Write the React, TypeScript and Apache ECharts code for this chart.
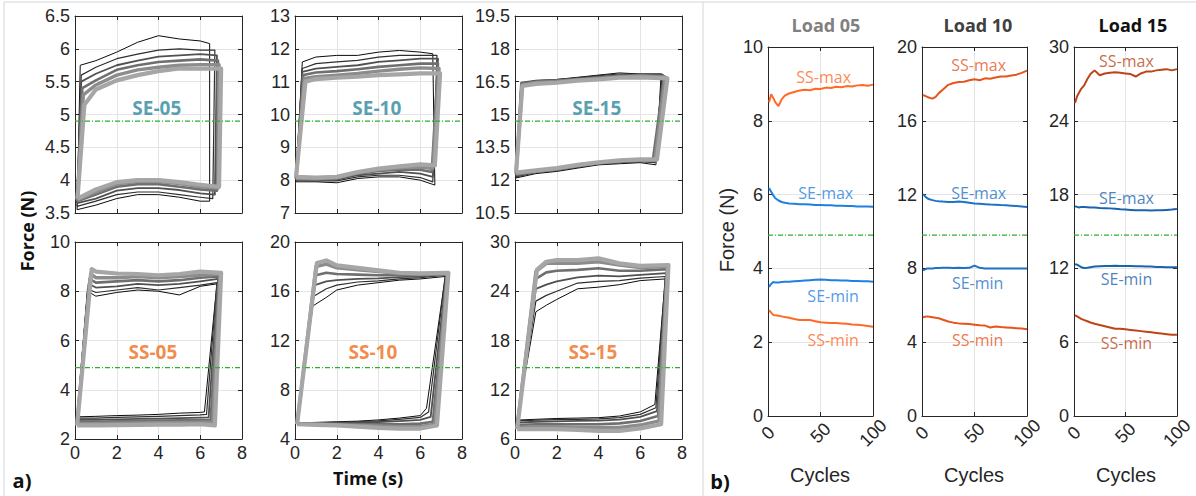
import React, { useEffect, useRef } from "react";
import * as echarts from "echarts";

// ---------------- Panel a) hysteresis loops ----------------
// Each loop: lower path (lower-left corner, plateau points, lower-right corner),
// then upper path (upper-right corner, plateau points, upper-left corner).
// corners = [lowerLeftT, lowerRightT, upperRightT, upperLeftT]
const LOW_T = [1, 2, 3, 4, 5, 6];
const UP_T_A = [6, 5, 4, 3, 2, 1];
const UP_T_B = [6, 5, 4, 3, 2, 1.5];

const CYCLE_GRAYS = ["#0b0b0b", "#2f2f2f", "#505050", "#6f6f6f", "#8c8c8c", "#a6a6a6"];
const CYCLE_WIDTHS = [1, 1.2, 1.8, 2.6, 3.4, 4.2];

const SE05_CORNERS = [[0.1, 6.45, 6.45, 0.25], [0.1, 6.6, 6.7, 0.3], [0.1, 6.7, 6.8, 0.3], [0.1, 6.8, 6.85, 0.35], [0.1, 6.85, 6.9, 0.4], [0.12, 6.9, 7.0, 0.45]];
const SE05_LOWER = [
  [3.55, 3.62, 3.72, 3.78, 3.78, 3.74, 3.68, 3.68],
  [3.6, 3.68, 3.78, 3.82, 3.82, 3.78, 3.74, 3.72],
  [3.65, 3.72, 3.84, 3.88, 3.88, 3.85, 3.8, 3.78],
  [3.68, 3.78, 3.9, 3.94, 3.94, 3.9, 3.86, 3.84],
  [3.7, 3.82, 3.94, 3.98, 3.98, 3.95, 3.9, 3.88],
  [3.72, 3.86, 3.97, 4.0, 4.0, 3.97, 3.93, 3.9],
];
const SE05_UPPER = [
  [6.08, 6.12, 6.15, 6.2, 6.1, 5.95, 5.82, 5.75],
  [5.98, 5.98, 6.0, 5.98, 5.92, 5.85, 5.72, 5.6],
  [5.9, 5.92, 5.9, 5.88, 5.82, 5.75, 5.62, 5.5],
  [5.82, 5.84, 5.82, 5.8, 5.75, 5.68, 5.52, 5.4],
  [5.76, 5.76, 5.75, 5.72, 5.68, 5.6, 5.45, 5.3],
  [5.7, 5.7, 5.7, 5.66, 5.6, 5.52, 5.38, 5.15],
];

const SE10_CORNERS = [[0.05, 6.7, 6.6, 0.35], [0.05, 6.6, 6.8, 0.35], [0.05, 6.6, 6.85, 0.35], [0.05, 6.55, 6.85, 0.4], [0.05, 6.6, 6.9, 0.45], [0.05, 6.7, 6.95, 0.5]];
const SE10_LOWER = [
  [7.95, 7.95, 7.92, 8.05, 8.1, 8.1, 8.0, 7.85],
  [8.0, 7.98, 7.98, 8.1, 8.15, 8.15, 8.08, 7.95],
  [8.0, 8.0, 8.02, 8.15, 8.2, 8.25, 8.2, 8.1],
  [8.05, 8.02, 8.05, 8.2, 8.28, 8.32, 8.32, 8.25],
  [8.05, 8.05, 8.08, 8.22, 8.32, 8.38, 8.4, 8.35],
  [8.1, 8.08, 8.1, 8.25, 8.35, 8.42, 8.48, 8.45],
];
const SE10_UPPER = [
  [11.85, 11.9, 11.95, 11.9, 11.8, 11.8, 11.75, 11.6],
  [11.8, 11.8, 11.8, 11.75, 11.65, 11.6, 11.55, 11.4],
  [11.7, 11.7, 11.65, 11.6, 11.5, 11.45, 11.4, 11.3],
  [11.55, 11.55, 11.5, 11.45, 11.38, 11.32, 11.28, 11.2],
  [11.4, 11.42, 11.38, 11.32, 11.25, 11.2, 11.15, 11.1],
  [11.25, 11.25, 11.22, 11.2, 11.15, 11.12, 11.08, 11.0],
];

const SE15_CORNERS = [[0.05, 6.75, 7.0, 0.3], [0.05, 6.7, 7.05, 0.3], [0.05, 6.65, 7.1, 0.3], [0.05, 6.6, 7.15, 0.3], [0.05, 6.7, 7.2, 0.35], [0.05, 6.8, 7.3, 0.35]];
const SE15_LOWER = [
  [12.1, 12.3, 12.4, 12.55, 12.7, 12.75, 12.8, 12.7],
  [12.15, 12.35, 12.45, 12.6, 12.72, 12.8, 12.85, 12.8],
  [12.2, 12.38, 12.5, 12.62, 12.75, 12.82, 12.88, 12.85],
  [12.25, 12.4, 12.5, 12.65, 12.78, 12.85, 12.9, 12.9],
  [12.3, 12.42, 12.52, 12.68, 12.8, 12.88, 12.92, 12.92],
  [12.35, 12.45, 12.55, 12.7, 12.82, 12.9, 12.95, 12.95],
];
const SE15_UPPER = [
  [16.85, 16.85, 16.9, 16.8, 16.7, 16.6, 16.45, 16.3],
  [16.85, 16.85, 16.85, 16.78, 16.68, 16.6, 16.55, 16.4],
  [16.8, 16.82, 16.8, 16.72, 16.65, 16.58, 16.55, 16.45],
  [16.75, 16.8, 16.75, 16.68, 16.6, 16.55, 16.5, 16.4],
  [16.7, 16.75, 16.72, 16.65, 16.58, 16.5, 16.45, 16.35],
  [16.65, 16.7, 16.68, 16.6, 16.55, 16.45, 16.4, 16.3],
];

const SS05_CORNERS = [[0.1, 6.2, 6.8, 0.6], [0.1, 6.3, 6.8, 0.6], [0.1, 6.4, 6.85, 0.65], [0.1, 6.5, 6.9, 0.7], [0.1, 6.6, 6.95, 0.75], [0.1, 6.7, 7.0, 0.8]];
const SS05_LOWER = [
  [2.9, 2.92, 2.95, 2.97, 3.0, 3.05, 3.08, 3.1],
  [2.85, 2.85, 2.88, 2.9, 2.92, 2.95, 2.98, 3.0],
  [2.78, 2.78, 2.8, 2.82, 2.83, 2.85, 2.87, 2.88],
  [2.7, 2.7, 2.72, 2.74, 2.75, 2.76, 2.77, 2.78],
  [2.62, 2.62, 2.64, 2.65, 2.66, 2.67, 2.68, 2.68],
  [2.55, 2.55, 2.56, 2.57, 2.58, 2.58, 2.6, 2.55],
];
const SS05_UPPER = [
  [8.3, 8.2, 7.85, 8.0, 8.05, 7.95, 7.8, 8.0],
  [8.35, 8.25, 8.15, 8.05, 8.15, 8.05, 7.95, 8.1],
  [8.5, 8.4, 8.3, 8.25, 8.3, 8.2, 8.15, 8.3],
  [8.6, 8.55, 8.45, 8.4, 8.45, 8.4, 8.35, 8.5],
  [8.7, 8.65, 8.6, 8.55, 8.6, 8.55, 8.55, 8.7],
  [8.75, 8.8, 8.7, 8.65, 8.7, 8.72, 8.8, 8.9],
];

const SS10_CORNERS = [[0.1, 6.3, 7.2, 0.85], [0.1, 6.4, 7.2, 0.9], [0.1, 6.5, 7.25, 0.95], [0.1, 6.6, 7.3, 1.0], [0.1, 6.7, 7.3, 1.0], [0.1, 6.8, 7.35, 1.05]];
const SS10_LOWER = [
  [5.3, 5.35, 5.4, 5.45, 5.55, 5.7, 5.9, 6.5],
  [5.3, 5.32, 5.35, 5.4, 5.48, 5.6, 5.75, 6.2],
  [5.3, 5.3, 5.3, 5.32, 5.38, 5.45, 5.55, 5.8],
  [5.25, 5.25, 5.22, 5.2, 5.2, 5.2, 5.25, 5.4],
  [5.2, 5.2, 5.15, 5.1, 5.05, 5.0, 5.0, 5.2],
  [5.2, 5.15, 5.1, 5.0, 4.9, 4.85, 4.85, 5.1],
];
const SS10_UPPER = [
  [17.2, 17.0, 16.9, 16.7, 16.5, 16.1, 15.5, 14.8],
  [17.3, 17.1, 17.0, 16.85, 16.75, 16.5, 16.2, 15.6],
  [17.35, 17.2, 17.15, 17.05, 17.0, 16.9, 16.8, 16.5],
  [17.4, 17.3, 17.3, 17.3, 17.35, 17.4, 17.5, 17.3],
  [17.45, 17.4, 17.45, 17.6, 17.75, 17.9, 18.2, 18.0],
  [17.5, 17.45, 17.5, 17.7, 17.9, 18.1, 18.5, 18.3],
];

const SS15_CORNERS = [[0.1, 6.7, 7.2, 1.0], [0.1, 6.75, 7.2, 1.0], [0.1, 6.8, 7.25, 1.0], [0.1, 6.85, 7.3, 1.0], [0.1, 6.9, 7.3, 1.0], [0.1, 7.0, 7.35, 1.05]];
const SS15_LOWER = [
  [8.3, 8.4, 8.5, 8.55, 8.6, 8.8, 9.3, 10.2],
  [8.2, 8.3, 8.35, 8.4, 8.45, 8.6, 9.0, 9.8],
  [8.0, 8.1, 8.15, 8.2, 8.25, 8.35, 8.7, 9.4],
  [7.7, 7.8, 7.8, 7.8, 7.8, 7.9, 8.2, 8.8],
  [7.4, 7.5, 7.5, 7.45, 7.4, 7.4, 7.7, 8.2],
  [7.2, 7.2, 7.2, 7.1, 7.0, 7.0, 7.3, 7.8],
];
const SS15_UPPER = [
  [25.5, 25.3, 24.8, 24.5, 24.3, 23.0, 22.3, 21.5],
  [25.8, 25.6, 25.3, 25.2, 25.0, 24.0, 23.5, 22.8],
  [26.2, 26.0, 25.8, 25.9, 25.7, 25.2, 24.8, 24.3],
  [26.7, 26.5, 26.5, 26.8, 26.6, 26.5, 26.3, 25.5],
  [27.0, 26.9, 27.2, 27.6, 27.4, 27.4, 27.4, 26.4],
  [27.2, 27.1, 27.4, 28.0, 27.8, 27.8, 27.6, 26.6],
];

const A_NAMES = ["SE-05", "SE-10", "SE-15", "SS-05", "SS-10", "SS-15"];
const A_Y_MIN = [3.5, 7, 10.5, 2, 4, 6];
const A_Y_MAX = [6.5, 13, 19.5, 10, 20, 30];
const A_Y_STEP = [0.5, 1, 1.5, 2, 4, 6];
const A_X_TICKS = [0, 8, 2];
const A_GREEN = [4.9, 9.8, 14.7, 4.9, 9.8, 14.7];
const A_LABEL_POS = [[3.92, 5.1], [3.92, 10.2], [3.92, 15.3], [3.73, 5.55], [3.73, 11.1], [3.73, 16.6]];

// ---------------- Panel b) max/min force vs cycles ----------------
const CYCLES = [1, 3, 5, 7, 10, 13, 16, 20, 25, 30, 35, 40, 45, 50, 55, 60, 65, 70, 75, 80, 85, 90, 95, 100];

const L05_SS_MAX = [8.5, 8.72, 8.62, 8.5, 8.4, 8.58, 8.68, 8.74, 8.78, 8.82, 8.84, 8.83, 8.87, 8.86, 8.9, 8.89, 8.92, 8.91, 8.94, 8.93, 8.96, 8.97, 8.95, 8.98];
const L05_SE_MAX = [6.18, 6.08, 5.98, 5.9, 5.84, 5.8, 5.78, 5.76, 5.75, 5.74, 5.74, 5.73, 5.72, 5.72, 5.71, 5.71, 5.7, 5.7, 5.69, 5.69, 5.68, 5.68, 5.68, 5.67];
const L05_SE_MIN = [3.5, 3.58, 3.63, 3.62, 3.62, 3.63, 3.64, 3.64, 3.65, 3.66, 3.67, 3.68, 3.69, 3.7, 3.69, 3.68, 3.68, 3.67, 3.67, 3.66, 3.66, 3.65, 3.65, 3.64];
const L05_SS_MIN = [2.87, 2.8, 2.74, 2.73, 2.72, 2.7, 2.68, 2.66, 2.63, 2.6, 2.6, 2.6, 2.57, 2.54, 2.53, 2.52, 2.52, 2.51, 2.5, 2.48, 2.47, 2.46, 2.44, 2.42];

const L10_SS_MAX = [17.4, 17.35, 17.3, 17.25, 17.2, 17.3, 17.5, 17.7, 17.95, 18.05, 18.1, 18.12, 18.2, 18.25, 18.2, 18.3, 18.28, 18.35, 18.4, 18.4, 18.45, 18.5, 18.6, 18.72];
const L10_SE_MAX = [12.03, 11.9, 11.8, 11.75, 11.7, 11.66, 11.64, 11.62, 11.6, 11.6, 11.62, 11.6, 11.56, 11.52, 11.5, 11.48, 11.46, 11.45, 11.43, 11.42, 11.4, 11.38, 11.36, 11.33];
const L10_SE_MIN = [7.9, 7.95, 8.0, 8.0, 8.0, 8.02, 8.02, 8.03, 8.03, 8.02, 8.03, 8.02, 8.03, 8.15, 8.03, 8.0, 8.0, 8.0, 8.0, 8.0, 8.0, 8.0, 8.0, 8.0];
const L10_SS_MIN = [5.35, 5.38, 5.4, 5.38, 5.35, 5.32, 5.3, 5.22, 5.12, 5.06, 5.02, 5.0, 4.98, 4.95, 4.92, 4.9, 4.8, 4.85, 4.82, 4.8, 4.78, 4.76, 4.74, 4.7];

const L15_SS_MAX = [25.45, 26.0, 26.3, 26.6, 26.9, 27.4, 27.8, 28.1, 27.7, 27.85, 27.9, 27.95, 27.9, 27.85, 27.8, 27.6, 27.85, 28.0, 28.0, 28.1, 28.15, 28.2, 28.1, 28.2];
const L15_SE_MAX = [17.05, 17.0, 16.95, 17.0, 17.0, 16.98, 16.96, 16.95, 16.92, 16.9, 16.88, 16.85, 16.8, 16.78, 16.75, 16.72, 16.72, 16.72, 16.7, 16.72, 16.72, 16.75, 16.78, 16.82];
const L15_SE_MIN = [12.35, 12.3, 12.2, 12.1, 12.03, 12.05, 12.1, 12.15, 12.18, 12.2, 12.2, 12.22, 12.2, 12.2, 12.2, 12.18, 12.18, 12.15, 12.15, 12.12, 12.12, 12.1, 12.1, 12.1];
const L15_SS_MIN = [8.2, 8.1, 8.0, 7.9, 7.8, 7.7, 7.6, 7.5, 7.4, 7.3, 7.2, 7.1, 7.1, 7.05, 7.0, 6.95, 6.9, 6.85, 6.8, 6.75, 6.7, 6.65, 6.6, 6.6];

const B_TITLES = ["Load 05", "Load 10", "Load 15"];
const B_SERIES_NAMES = ["SS-max", "SE-max", "SE-min", "SS-min"];
const B_Y_MAX = [10, 20, 30];
const B_Y_STEP = [2, 4, 6];
const B_X_TICKS = [0, 100, 50];
const B_GREEN = [4.9, 9.8, 14.7];
const B_LABEL_POS = [
  [[53, 9.2], [55, 6.04], [62, 3.25], [62, 2.06]],
  [[54, 19.0], [54, 12.1], [53, 7.2], [53, 4.1]],
  [[51, 28.9], [51, 17.7], [51, 11.1], [51, 5.9]],
];

// ---------------- styling / layout ----------------
const INK = "#262626";
const GRIDLINE = "#e4e4e4";
const GREEN = "#2bb02b";
const SE_LABEL = "#2a879b";
const SS_LABEL = "#ee6e1c";
const B_SE_COLORS = ["#1f80e0", "#1b72c8", "#1a64ae"];
const B_SS_COLORS = ["#ff6a26", "#e6551c", "#bd4416"];
const B_TITLE_COLORS = ["#808080", "#404040", "#111111"];
const SANS = "'Liberation Sans', Arial, sans-serif";
const LABEL_FONT = "'Open Sans', 'Noto Sans', sans-serif";

const A_GRIDS = [
  { left: 75, top: 16 }, { left: 295, top: 16 }, { left: 515, top: 16 },
  { left: 75, top: 242 }, { left: 295, top: 242 }, { left: 515, top: 242 },
];
const A_GRID_W = 167;
const A_GRID_H = 197;
const B_GRIDS = [{ left: 768 }, { left: 922 }, { left: 1074 }];
const B_GRID_TOP = 47;
const B_GRID_W = 105;
const B_GRID_H = 369;
const B_TITLE_X = [826, 978, 1133];
const B_CYCLES_X = [820, 974, 1126];

function buildLoop(corner: number[], low: number[], up: number[], upT: number[]) {
  const pts: number[][] = [];
  pts.push([corner[0], low[0]]);
  LOW_T.forEach((t, k) => pts.push([t, low[k + 1]]));
  pts.push([corner[1], low[low.length - 1]]);
  pts.push([corner[2], up[0]]);
  upT.forEach((t, k) => pts.push([t, up[k + 1]]));
  pts.push([corner[3], up[up.length - 1]]);
  pts.push([corner[0], low[0]]);
  return pts;
}

function buildOption() {
  const grid: any[] = [];
  const xAxis: any[] = [];
  const yAxis: any[] = [];
  const series: any[] = [];

  const addPanel = (
    pos: { left: number; top: number; width: number; height: number },
    xr: number[], yMin: number, yMax: number, yStep: number,
    showXLabels: boolean, rotateX: boolean
  ) => {
    const gi = grid.length;
    grid.push({ left: pos.left, top: pos.top, width: pos.width, height: pos.height, containLabel: false });
    const axisLine = { show: true, onZero: false, lineStyle: { color: INK, width: 1 } };
    const axisTick = { show: true, inside: true, length: 4, lineStyle: { color: INK } };
    const labelBase = { color: INK, fontSize: 18, fontFamily: SANS };
    xAxis.push({
      type: "value", gridIndex: gi, min: xr[0], max: xr[1], interval: xr[2], position: "bottom",
      axisLine, axisTick,
      splitLine: { show: true, lineStyle: { color: GRIDLINE, width: 1 } },
      axisLabel: rotateX
        ? { ...labelBase, show: showXLabels, rotate: 45, align: "center", verticalAlign: "middle", margin: 17 }
        : { ...labelBase, show: showXLabels, margin: 5 },
    });
    xAxis.push({
      type: "value", gridIndex: gi, min: xr[0], max: xr[1], interval: xr[2], position: "top",
      axisLine, axisTick, splitLine: { show: false }, axisLabel: { show: false },
    });
    yAxis.push({
      type: "value", gridIndex: gi, min: yMin, max: yMax, interval: yStep, position: "left",
      axisLine, axisTick,
      splitLine: { show: true, lineStyle: { color: GRIDLINE, width: 1 } },
      axisLabel: { ...labelBase, margin: 5 },
    });
    yAxis.push({
      type: "value", gridIndex: gi, min: yMin, max: yMax, interval: yStep, position: "right",
      axisLine, axisTick, splitLine: { show: false }, axisLabel: { show: false },
    });
    return gi * 2;
  };

  const addLabel = (ai: number, p: number[], text: string, color: string, fontSize: number, bold: boolean) => {
    series.push({
      type: "scatter", xAxisIndex: ai, yAxisIndex: ai, data: [p], symbolSize: 1, silent: true, z: 20,
      itemStyle: { color: "rgba(0,0,0,0)" },
      label: {
        show: true, position: "inside", formatter: text, color, fontSize,
        fontWeight: bold ? "bold" : "normal", fontFamily: LABEL_FONT, align: "center", verticalAlign: "middle",
      },
    });
  };

  const addGreen = (ai: number, x0: number, x1: number, level: number) => {
    series.push({
      type: "line", xAxisIndex: ai, yAxisIndex: ai, data: [[x0, level], [x1, level]],
      showSymbol: false, symbol: "none", silent: true, z: 15,
      lineStyle: { color: GREEN, width: 1.2, type: [5, 2, 1, 2] },
    });
  };

  // Panel a
  const aCorners = [SE05_CORNERS, SE10_CORNERS, SE15_CORNERS, SS05_CORNERS, SS10_CORNERS, SS15_CORNERS];
  const aLower = [SE05_LOWER, SE10_LOWER, SE15_LOWER, SS05_LOWER, SS10_LOWER, SS15_LOWER];
  const aUpper = [SE05_UPPER, SE10_UPPER, SE15_UPPER, SS05_UPPER, SS10_UPPER, SS15_UPPER];
  const aUpT = [UP_T_A, UP_T_A, UP_T_A, UP_T_A, UP_T_B, UP_T_B];
  A_NAMES.forEach((name, i) => {
    const ai = addPanel(
      { left: A_GRIDS[i].left, top: A_GRIDS[i].top, width: A_GRID_W, height: A_GRID_H },
      A_X_TICKS, A_Y_MIN[i], A_Y_MAX[i], A_Y_STEP[i], i >= 3, false
    );
    aCorners[i].forEach((corner, c) => {
      series.push({
        type: "line", xAxisIndex: ai, yAxisIndex: ai,
        data: buildLoop(corner, aLower[i][c], aUpper[i][c], aUpT[i]),
        showSymbol: false, symbol: "none", silent: true, z: 2,
        lineStyle: { color: CYCLE_GRAYS[c], width: CYCLE_WIDTHS[c], join: "round" },
      });
    });
    addGreen(ai, A_X_TICKS[0], A_X_TICKS[1], A_GREEN[i]);
    addLabel(ai, A_LABEL_POS[i], name, i < 3 ? SE_LABEL : SS_LABEL, 19, true);
  });

  // Panel b
  const bData = [
    [L05_SS_MAX, L05_SE_MAX, L05_SE_MIN, L05_SS_MIN],
    [L10_SS_MAX, L10_SE_MAX, L10_SE_MIN, L10_SS_MIN],
    [L15_SS_MAX, L15_SE_MAX, L15_SE_MIN, L15_SS_MIN],
  ];
  B_TITLES.forEach((_, j) => {
    const ai = addPanel(
      { left: B_GRIDS[j].left, top: B_GRID_TOP, width: B_GRID_W, height: B_GRID_H },
      B_X_TICKS, 0, B_Y_MAX[j], B_Y_STEP[j], true, true
    );
    addGreen(ai, B_X_TICKS[0], B_X_TICKS[1], B_GREEN[j]);
    bData[j].forEach((vals, k) => {
      const color = B_SERIES_NAMES[k].startsWith("SE") ? B_SE_COLORS[j] : B_SS_COLORS[j];
      series.push({
        type: "line", xAxisIndex: ai, yAxisIndex: ai,
        data: CYCLES.map((cy, n) => [cy, vals[n]]),
        showSymbol: false, symbol: "none", silent: true, z: 5,
        lineStyle: { color, width: 2 },
      });
      addLabel(ai, B_LABEL_POS[j][k], B_SERIES_NAMES[k], color, 16, false);
    });
  });

  const txt = (x: number, y: number, text: string, size: number, opts: any = {}) => ({
    type: "text", x, y, rotation: opts.rotation || 0, silent: true, z: 50,
    style: {
      text, fontSize: size, fontWeight: opts.bold ? "bold" : "normal",
      fontFamily: opts.font || LABEL_FONT, fill: opts.color || "#111111",
      align: "center", verticalAlign: "middle",
    },
  });

  const graphic: any[] = [
    { type: "line", shape: { x1: 4, y1: 2, x2: 1196, y2: 2 }, style: { stroke: "#d6d6d6", lineWidth: 1 }, silent: true },
    { type: "line", shape: { x1: 4, y1: 2, x2: 4, y2: 496 }, style: { stroke: "#d6d6d6", lineWidth: 1 }, silent: true },
    { type: "line", shape: { x1: 703, y1: 2, x2: 703, y2: 496 }, style: { stroke: "#d6d6d6", lineWidth: 1 }, silent: true },
    txt(27, 231, "Force (N)", 18, { bold: true, rotation: Math.PI / 2 }),
    txt(368, 478, "Time (s)", 18, { bold: true }),
    txt(22, 480, "a)", 20, { bold: true }),
    txt(720, 481, "b)", 20, { bold: true }),
    txt(727, 230, "Force (N)", 20, { rotation: Math.PI / 2, font: SANS, color: INK }),
  ];
  B_TITLES.forEach((t, j) => {
    graphic.push(txt(B_TITLE_X[j], 25, t, 18, { bold: true, color: B_TITLE_COLORS[j] }));
    graphic.push(txt(B_CYCLES_X[j], 475, "Cycles", 20, { font: SANS, color: INK }));
  });

  return {
    animation: false,
    backgroundColor: "#ffffff",
    grid, xAxis, yAxis, series, graphic,
  };
}

export default function App() {
  const ref = useRef<HTMLDivElement>(null);
  useEffect(() => {
    document.body.style.margin = "0";
    const chart = echarts.init(ref.current!, null, { renderer: "svg" });
    chart.setOption(buildOption() as any);
    return () => chart.dispose();
  }, []);
  return <div ref={ref} style={{ position: "fixed", left: 0, top: 0, width: 1196, height: 496, background: "#fff" }} />;
}
